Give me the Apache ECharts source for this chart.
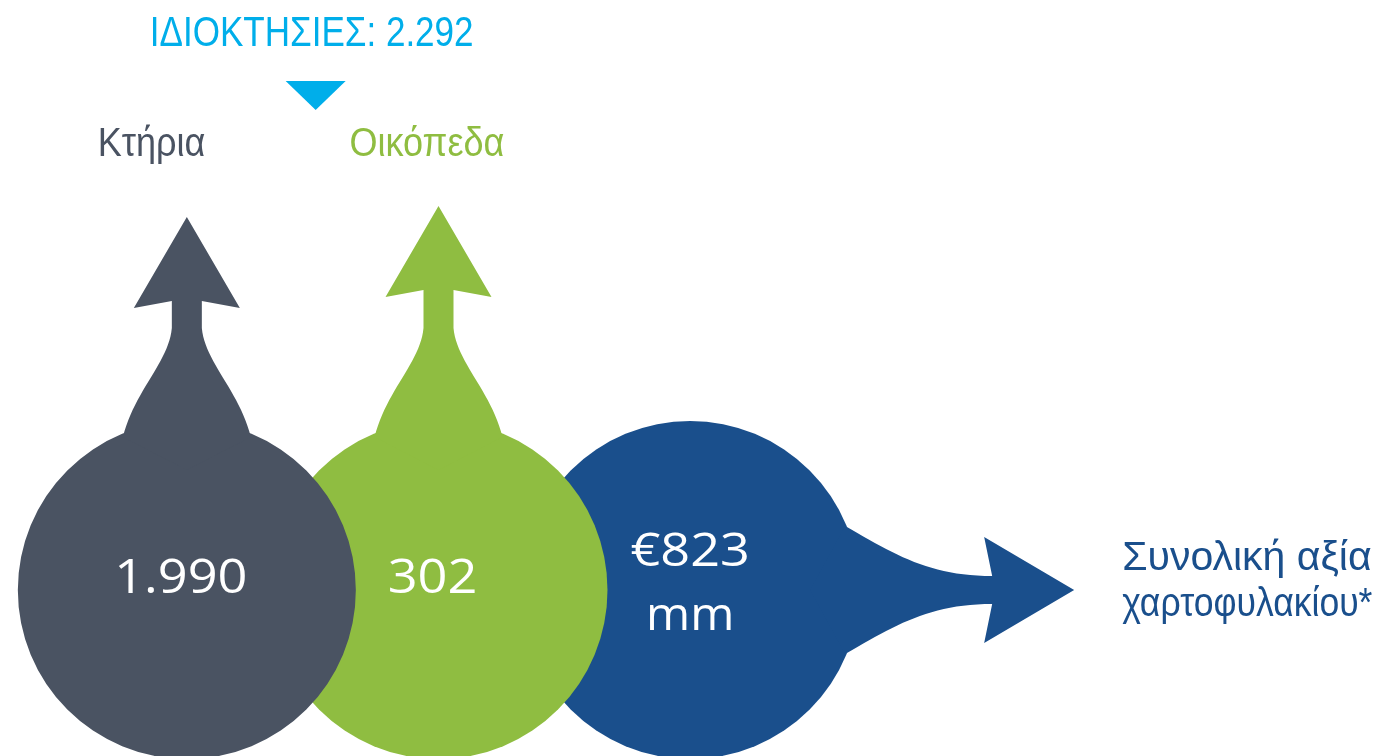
<!DOCTYPE html>
<html>
<head>
<meta charset="utf-8">
<script src="https://cdn.jsdelivr.net/npm/echarts@6/dist/echarts.min.js"></script>
<style>
html,body{margin:0;padding:0;background:#ffffff;}
#chart{width:1378px;height:756px;}
</style>
</head>
<body>
<div id="chart"></div>
<script>
// ---- data ----
const categories = ['Κτήρια', 'Οικόπεδα', 'Συνολική αξία\nχαρτοφυλακίου*'];
const values = [1990, 302, 823];
const valuePrefix = ['', '', '€'];
const valueSuffix = ['', '', '\nmm'];
const totalLabel = 'ΙΔΙΟΚΤΗΣΙΕΣ';
const totalValue = 2292;

// ---- styles ----
const palette = ['#4a5362', '#8fbd41', '#1a4f8c'];
const titleColor = '#00aeea';
const narrowFont = "'Liberation Sans', Arial, sans-serif";
const valueFont = "'Open Sans', 'Noto Sans', sans-serif";

function fmt(n) {
  return String(n).replace(/\B(?=(\d{3})+(?!\d))/g, '.');
}

function bez(p0, p1, p2, p3, n) {
  const pts = [];
  for (let k = 0; k <= n; k++) {
    const t = k / n, u = 1 - t;
    const a = u * u * u, b = 3 * u * u * t, c = 3 * u * t * t, d = t * t * t;
    pts.push([a * p0[0] + b * p1[0] + c * p2[0] + d * p3[0],
              a * p0[1] + b * p1[1] + c * p2[1] + d * p3[1]]);
  }
  return pts;
}

const R = 169;

function upArrow(cx, cy, e) {
  let pts = [];
  pts = pts.concat(bez([-64, -153], [-52, -200], [-18, -228], [-15, -262], 24));
  pts.push([-15, -289 - e], [-53, -282 - e], [0, -373 - e], [53, -282 - e], [15, -289 - e]);
  pts = pts.concat(bez([15, -262], [18, -228], [52, -200], [64, -153], 24));
  pts.push([0, -120]);
  return pts.map(p => [cx + p[0], cy + p[1]]);
}

function rightArrow(cx, cy) {
  let pts = [];
  pts = pts.concat(bez([155, -64], [205, -35], [240, -14], [302, -14], 24));
  pts.push([294, -53], [384, 0], [294, 53], [302, 14]);
  pts = pts.concat(bez([302, 14], [240, 14], [205, 35], [155, 64], 24));
  pts.push([120, 0]);
  return pts.map(p => [cx + p[0], cy + p[1]]);
}

function renderItem(params, api) {
  const i = params.dataIndex;
  const c = api.coord([i, 0]);
  const cx = c[0], cy = c[1];
  const color = palette[i];
  const zBase = (3 - i) * 10;
  const children = [];
  children.push({ type: 'circle', shape: { cx: cx, cy: cy, r: R }, style: { fill: color }, z2: zBase });
  const v = api.value(2);
  const valueLines = (valuePrefix[i] + fmt(v) + valueSuffix[i]).split('\n');
  if (i < 2) {
    const extra = i === 0 ? 0 : 11;
    children.push({ type: 'polygon', shape: { points: upArrow(cx, cy, extra) }, style: { fill: color }, z2: zBase });
    children.push({
      type: 'text', x: cx - 89, y: cy - 445, z2: 100, scaleX: 0.9,
      style: { text: categories[i], fill: color, fontSize: 40, fontFamily: narrowFont, align: 'left', verticalAlign: 'middle' }
    });
    children.push({
      type: 'text', x: cx - 6, y: cy - 11, z2: 100, scaleX: 1.09,
      style: { text: valueLines[0], fill: '#ffffff', fontSize: 48, fontFamily: valueFont, align: 'center', verticalAlign: 'middle' }
    });
  } else {
    children.push({ type: 'polygon', shape: { points: rightArrow(cx, cy) }, style: { fill: color }, z2: zBase });
    const lines = categories[i].split('\n');
    const lineScale = [1.0, 0.867];
    lines.forEach((ln, k) => {
      children.push({
        type: 'text', x: cx + 432, y: cy - 31 + k * 46, z2: 100, scaleX: lineScale[k] || 1,
        style: { text: ln, fill: color, fontSize: 41, fontFamily: narrowFont, align: 'left', verticalAlign: 'middle' }
      });
    });
    const vScale = [1.16, 1.06];
    valueLines.forEach((ln, k) => {
      children.push({
        type: 'text', x: cx, y: cy - 37 + k * 64, z2: 100, scaleX: vScale[k] || 1,
        style: { text: ln, fill: '#ffffff', fontSize: 45, fontFamily: valueFont, align: 'center', verticalAlign: 'middle' }
      });
    });
  }
  if (i === 0) {
    const c1 = api.coord([1, 0]);
    const mx = (cx + c1[0]) / 2 + 3;
    children.push({
      type: 'text', x: mx - 4, y: cy - 556, z2: 100, scaleX: 0.815,
      style: { text: totalLabel + ': ' + fmt(totalValue), fill: titleColor, fontSize: 43, fontFamily: narrowFont, align: 'center', verticalAlign: 'middle' }
    });
    children.push({
      type: 'polygon', z2: 100,
      shape: { points: [[mx - 30, cy - 509], [mx + 30, cy - 509], [mx, cy - 480]] },
      style: { fill: titleColor }
    });
  }
  return { type: 'group', children: children };
}

const chart = echarts.init(document.getElementById('chart'));
chart.setOption({
  animation: false,
  grid: { left: 61, width: 755, top: 90, height: 500 },
  xAxis: { type: 'category', data: categories, show: false },
  yAxis: { type: 'value', min: 0, max: 1, show: false },
  series: [{
    type: 'custom',
    clip: false,
    renderItem: renderItem,
    encode: { x: 0, y: 1 },
    data: values.map((v, i) => [i, 0, v])
  }]
});
</script>
</body>
</html>
